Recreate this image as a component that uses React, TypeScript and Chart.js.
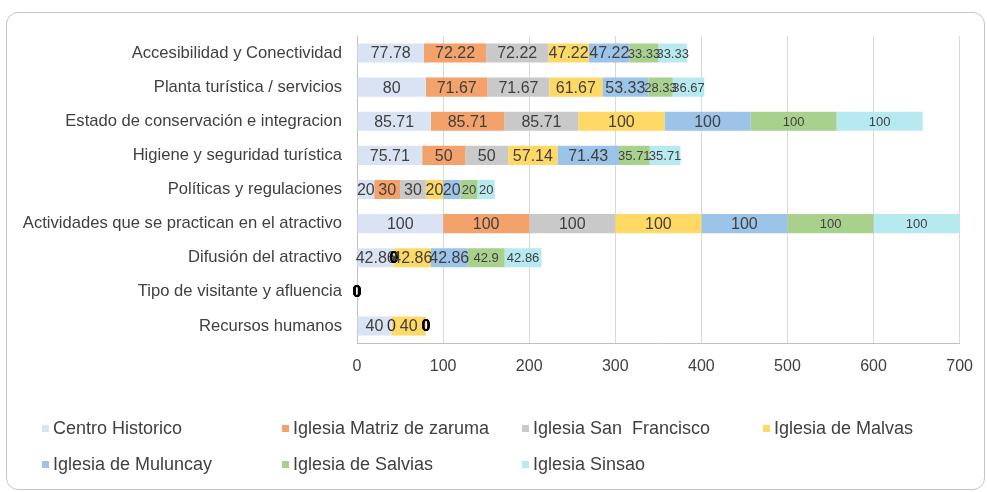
import React, { useEffect, useRef } from 'react';
import { Chart, registerables } from 'chart.js';

Chart.register(...registerables);

const categories = [
  'Accesibilidad y Conectividad',
  'Planta turística / servicios',
  'Estado de conservación e integracion',
  'Higiene y seguridad turística',
  'Políticas y regulaciones',
  'Actividades que se practican en el atractivo',
  'Difusión del atractivo',
  'Tipo de visitante y afluencia',
  'Recursos humanos',
];

const seriesNames = [
  'Centro Historico',
  'Iglesia Matriz de zaruma',
  'Iglesia San  Francisco',
  'Iglesia de Malvas',
  'Iglesia de Muluncay',
  'Iglesia de Salvias',
  'Iglesia Sinsao',
];

const centroHistorico = [77.78, 80, 85.71, 75.71, 20, 100, 42.86, 0, 40];
const iglesiaMatriz = [72.22, 71.67, 85.71, 50, 30, 100, 0, 0, 0];
const iglesiaSanFrancisco = [72.22, 71.67, 85.71, 50, 30, 100, 0, 0, null];
const iglesiaMalvas = [47.22, 61.67, 100, 57.14, 20, 100, 42.86, 0, 40];
const iglesiaMuluncay = [47.22, 53.33, 100, 71.43, 20, 100, 42.86, 0, 0];
const iglesiaSalvias = [33.33, 28.33, 100, 35.71, 20, 100, 42.9, 0, 0];
const iglesiaSinsao = [33.33, 36.67, 100, 35.71, 20, 100, 42.86, 0, 0];

const seriesValues = [
  centroHistorico,
  iglesiaMatriz,
  iglesiaSanFrancisco,
  iglesiaMalvas,
  iglesiaMuluncay,
  iglesiaSalvias,
  iglesiaSinsao,
];

const seriesColors = ['#dae3f3', '#f4a26b', '#c9c9c9', '#ffd966', '#9cc3e8', '#a9d18e', '#b7eaf0'];
const labelSizes = [16, 16, 16, 16, 16, 13, 13];

const xTickValues = [0, 100, 200, 300, 400, 500, 600, 700];

const FONT = '"Liberation Sans", Arial, sans-serif';

const labelPlugin = {
  id: 'barLabels',
  afterDatasetsDraw(chart: any) {
    const ctx = chart.ctx;
    const items: { text: string; x: number; y: number; di: number; zero: boolean; key: string }[] = [];
    chart.data.datasets.forEach((ds: any, di: number) => {
      const meta = chart.getDatasetMeta(di);
      meta.data.forEach((bar: any, i: number) => {
        const v = ds.data[i];
        if (v === null || v === undefined) return;
        const p = bar.getProps(['x', 'y', 'base'], true);
        const cx = (p.x + p.base) / 2;
        items.push({ text: String(v), x: cx, y: p.y, di, zero: v === 0, key: `${i}_${Math.round(cx)}` });
      });
    });
    const zeroCount: Record<string, number> = {};
    items.forEach((it) => {
      if (it.zero) zeroCount[it.key] = (zeroCount[it.key] || 0) + 1;
    });
    items.forEach((it) => {
      ctx.save();
      if (it.zero) {
        const heavy = zeroCount[it.key] > 1;
        ctx.font = `${heavy ? 'bold ' : ''}16px ${FONT}`;
        ctx.fillStyle = heavy ? '#000000' : '#262626';
      } else {
        ctx.font = `${labelSizes[it.di]}px ${FONT}`;
        ctx.fillStyle = '#404040';
      }
      ctx.textAlign = 'center';
      ctx.textBaseline = 'middle';
      ctx.fillText(it.text, it.x, it.y + 1);
      ctx.restore();
    });
  },
};

const legendBoxX = [42, 282, 522, 763];
const legendRowY = [417, 453];

export default function App() {
  const canvasRef = useRef<HTMLCanvasElement | null>(null);

  useEffect(() => {
    if (!canvasRef.current) return;
    const chart = new Chart(canvasRef.current, {
      type: 'bar',
      data: {
        labels: categories,
        datasets: seriesNames.map((name, i) => ({
          label: name,
          data: seriesValues[i] as any,
          backgroundColor: seriesColors[i],
          borderWidth: 0,
          barPercentage: 0.56,
          categoryPercentage: 1,
        })),
      },
      options: {
        indexAxis: 'y',
        animation: false,
        responsive: false,
        layout: { padding: { top: 36, right: 27, bottom: 109, left: 0 } },
        plugins: {
          legend: { display: false },
          tooltip: { enabled: false },
        },
        scales: {
          x: {
            stacked: true,
            min: 0,
            max: 700,
            afterBuildTicks: (scale: any) => {
              scale.ticks = xTickValues.map((v) => ({ value: v }));
            },
            afterFit: (scale: any) => {
              scale.height = 40;
            },
            ticks: {
              font: { size: 16, family: FONT },
              color: '#404040',
              padding: 14,
            },
            grid: { color: '#d9d9d9', drawTicks: false, lineWidth: 1 },
            border: { color: '#bfbfbf', width: 1 },
          },
          y: {
            stacked: true,
            afterFit: (scale: any) => {
              scale.width = 357;
            },
            ticks: {
              font: { size: 16.6, family: FONT },
              color: '#404040',
              padding: 15,
              autoSkip: false,
            },
            grid: { display: false, drawTicks: false },
            border: { color: '#bfbfbf', width: 1 },
          },
        },
      },
      plugins: [labelPlugin],
    });
    return () => chart.destroy();
  }, []);

  return (
    <div style={{ position: 'absolute', left: 0, top: 0, width: 987, height: 492, background: '#ffffff' }}>
      <canvas ref={canvasRef} width={987} height={492} style={{ position: 'absolute', left: 0, top: 0 }} />
      <div
        style={{
          position: 'absolute',
          left: 6,
          top: 12,
          width: 979,
          height: 478,
          border: '1px solid #c4c4c4',
          borderRadius: 12,
          boxSizing: 'border-box',
          pointerEvents: 'none',
        }}
      />
      {seriesNames.map((name, i) => {
        const row = Math.floor(i / 4);
        const col = i % 4;
        return (
          <div
            key={name}
            style={{
              position: 'absolute',
              left: legendBoxX[col],
              top: legendRowY[row],
              height: 22,
              display: 'flex',
              alignItems: 'center',
              fontFamily: FONT,
              fontSize: 18,
              color: '#404040',
              whiteSpace: 'pre',
            }}
          >
            <span style={{ display: 'inline-block', width: 7, height: 7, background: seriesColors[i], marginRight: 4 }} />
            <span>{name}</span>
          </div>
        );
      })}
    </div>
  );
}
